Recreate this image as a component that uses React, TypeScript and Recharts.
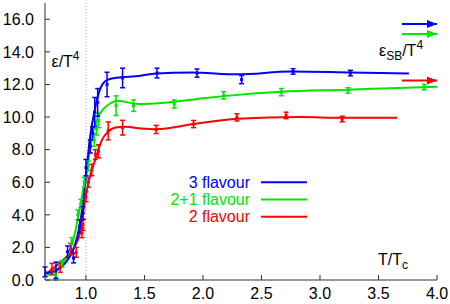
import React from "react";
import {
  ComposedChart,
  Line,
  Scatter,
  ErrorBar,
  XAxis,
  YAxis,
  ReferenceLine,
} from "recharts";

// ---- tick labels ----
const X_TICKS = [1.0, 1.5, 2.0, 2.5, 3.0, 3.5, 4.0];
const Y_TICKS = [0, 2, 4, 6, 8, 10, 12, 14, 16];

// ---- smooth curves [T/Tc, eps/T^4] ----
const curve3 = [
  [0.65, 0.4], [0.75, 0.6], [0.85, 1.3], [0.9, 2.0], [0.95, 3.5], [0.98, 5.0],
  [1.0, 6.3], [1.03, 8.5], [1.08, 10.6], [1.12, 11.7], [1.18, 12.27], [1.3, 12.44],
  [1.42, 12.5], [1.6, 12.68], [1.9, 12.74], [2.3, 12.62], [2.75, 12.8], [3.26, 12.74],
  [3.76, 12.68],
];
const curve21 = [
  [0.65, 0.25], [0.75, 0.6], [0.8, 1.0], [0.85, 1.6], [0.9, 2.7], [0.95, 4.5],
  [1.0, 6.5], [1.04, 8.2], [1.065, 9.2], [1.09, 9.8], [1.15, 10.5], [1.2, 10.8],
  [1.27, 11.0], [1.45, 10.8], [1.7, 10.9], [2.0, 11.15], [2.2, 11.3], [2.67, 11.55],
  [3.24, 11.68], [3.6, 11.77], [4.0, 11.86],
];
const curve2 = [
  [0.65, 0.35], [0.7, 0.6], [0.8, 1.2], [0.9, 2.0], [0.95, 2.9], [1.0, 5.2],
  [1.03, 6.25], [1.08, 7.4], [1.137, 8.6], [1.19, 9.1], [1.265, 9.37], [1.34, 9.4],
  [1.47, 9.3], [1.6, 9.25], [1.92, 9.57], [2.29, 9.9], [2.83, 10.0], [3.19, 9.96],
  [3.66, 9.96],
];

// ---- data points [T/Tc, eps/T^4, error] ----
const points3 = [
  [0.65, 0.5, 0.3], [0.744, 0.6, 0.5], [0.843, 1.74, 0.35], [0.894, 1.35, 0.3],
  [0.946, 3.3, 0.4], [0.975, 4.1, 0.4], [1.0, 6.9, 0.5], [1.037, 8.2, 0.4],
  [1.057, 9.0, 0.4], [1.075, 10.3, 0.9], [1.1, 10.9, 0.85], [1.18, 12.0, 0.75],
  [1.313, 12.4, 0.6], [1.607, 12.7, 0.3], [1.949, 12.7, 0.25], [2.33, 12.3, 0.25],
  [2.77, 12.8, 0.17], [3.26, 12.7, 0.17],
];
const points21 = [
  [0.74, 0.3, 0.3], [0.795, 1.0, 0.2], [0.88, 2.4, 0.2], [0.93, 4.0, 0.3],
  [0.957, 4.7, 0.25], [0.985, 6.0, 0.3], [1.02, 7.0, 0.3], [1.07, 8.6, 0.4],
  [1.09, 9.3, 0.4], [1.108, 9.8, 0.45], [1.257, 10.7, 0.6], [1.407, 10.7, 0.35],
  [1.755, 10.8, 0.25], [2.177, 11.33, 0.22], [2.67, 11.53, 0.22], [3.24, 11.63, 0.17],
  [3.89, 11.84, 0.17],
];
const points2 = [
  [0.71, 0.67, 0.35], [0.78, 0.77, 0.3], [0.87, 1.9, 0.35], [0.917, 1.7, 0.3],
  [0.966, 2.9, 0.3], [0.975, 3.4, 0.35], [1.0, 5.1, 0.3], [1.02, 6.0, 0.3],
  [1.05, 6.75, 0.35], [1.08, 7.7, 0.3], [1.107, 7.9, 0.4], [1.19, 9.15, 0.55],
  [1.313, 9.35, 0.45], [1.6, 9.24, 0.25], [1.92, 9.57, 0.22], [2.29, 9.98, 0.22],
  [2.71, 10.1, 0.2], [3.19, 9.88, 0.17],
];

// ---- Stefan-Boltzmann limits (arrows) ----
const SB_START = 3.7;
const SB_END = 4.0;
const sb3 = 15.71;
const sb21 = 15.1;
const sb2 = 12.25;

const BLUE = "#0000ff";
const GREEN = "#00e600";
const RED = "#ff0000";

const toCurve = (arr: number[][]) => arr.map(([x, y]) => ({ x, y }));
const toPoints = (arr: number[][]) => arr.map(([x, y, e]) => ({ x, y, e }));
const toArrow = (v: number) => [
  { x: SB_START, y: v },
  { x: SB_END, y: v },
];

const Sq = (color: string) => (props: any) => {
  const { cx, cy } = props;
  if (cx == null || cy == null) return null;
  return <rect x={cx - 1.5} y={cy - 1.5} width={3} height={3} fill={color} />;
};

const ArrowHead = (color: string) => (props: any) => {
  const { cx, cy, index } = props;
  if (index !== 1 || cx == null) return <g key={`a${index}`} />;
  return (
    <polygon
      key={`a${index}`}
      points={`${cx},${cy} ${cx - 10},${cy - 4} ${cx - 10},${cy + 4}`}
      fill={color}
    />
  );
};

const FONT = "'Liberation Sans', Arial, Helvetica, sans-serif";
const AXIS_COLOR = "#333";

export default function App() {
  const legend = [
    { label: "3 flavour", color: BLUE },
    { label: "2+1 flavour", color: GREEN },
    { label: "2 flavour", color: RED },
  ];
  return (
    <div
      style={{
        position: "absolute",
        left: 0,
        top: 0,
        width: 450,
        height: 304,
        fontFamily: FONT,
        background: "#fff",
      }}
    >
      <ComposedChart
        width={450}
        height={304}
        margin={{ top: 3, right: 13, bottom: 0, left: 0 }}
      >
        <XAxis
          xAxisId="b"
          type="number"
          dataKey="x"
          domain={[0.65, 4.0]}
          allowDataOverflow
          ticks={X_TICKS}
          tickFormatter={(v: number) => v.toFixed(1)}
          height={24}
          tickSize={-5}
          tickMargin={13}
          tick={{ fill: "#000", fontSize: 16, fontFamily: FONT }}
          stroke={AXIS_COLOR}
          axisLine={{ stroke: AXIS_COLOR }}
        />
        <XAxis
          xAxisId="t"
          orientation="top"
          type="number"
          dataKey="x"
          domain={[0.65, 4.0]}
          allowDataOverflow
          ticks={X_TICKS}
          tickFormatter={() => ""}
          height={0}
          tickSize={-5}
          stroke={AXIS_COLOR}
        />
        <YAxis
          yAxisId="l"
          type="number"
          domain={[0, 17]}
          allowDataOverflow
          ticks={Y_TICKS}
          tickFormatter={(v: number) => v.toFixed(1)}
          width={45}
          tickSize={-5}
          tickMargin={16}
          tick={{ fill: "#000", fontSize: 16, fontFamily: FONT }}
          stroke={AXIS_COLOR}
        />
        <YAxis
          yAxisId="r"
          orientation="right"
          type="number"
          domain={[0, 17]}
          allowDataOverflow
          ticks={Y_TICKS}
          tickFormatter={() => ""}
          width={0}
          tickSize={-5}
          stroke={AXIS_COLOR}
        />
        <ReferenceLine
          xAxisId="b"
          yAxisId="l"
          x={1.0}
          stroke="#aaa"
          strokeDasharray="1 2"
          strokeWidth={1}
        />

        <Line xAxisId="b" yAxisId="l" data={toCurve(curve2)} dataKey="y" type="monotone" stroke={RED} strokeWidth={2} dot={false} isAnimationActive={false} />
        <Line xAxisId="b" yAxisId="l" data={toCurve(curve21)} dataKey="y" type="monotone" stroke={GREEN} strokeWidth={2} dot={false} isAnimationActive={false} />
        <Line xAxisId="b" yAxisId="l" data={toCurve(curve3)} dataKey="y" type="monotone" stroke={BLUE} strokeWidth={2} dot={false} isAnimationActive={false} />

        <Scatter xAxisId="b" yAxisId="l" data={toPoints(points2)} dataKey="y" fill={RED} shape={Sq(RED)} isAnimationActive={false}>
          <ErrorBar dataKey="e" direction="y" width={2.5} stroke={RED} strokeWidth={1.5} />
        </Scatter>
        <Scatter xAxisId="b" yAxisId="l" data={toPoints(points21)} dataKey="y" fill={GREEN} shape={Sq(GREEN)} isAnimationActive={false}>
          <ErrorBar dataKey="e" direction="y" width={2.5} stroke={GREEN} strokeWidth={1.5} />
        </Scatter>
        <Scatter xAxisId="b" yAxisId="l" data={toPoints(points3)} dataKey="y" fill={BLUE} shape={Sq(BLUE)} isAnimationActive={false}>
          <ErrorBar dataKey="e" direction="y" width={2.5} stroke={BLUE} strokeWidth={1.5} />
        </Scatter>

        <Line xAxisId="b" yAxisId="l" data={toArrow(sb3)} dataKey="y" type="linear" stroke={BLUE} strokeWidth={2} dot={ArrowHead(BLUE)} isAnimationActive={false} />
        <Line xAxisId="b" yAxisId="l" data={toArrow(sb21)} dataKey="y" type="linear" stroke={GREEN} strokeWidth={2} dot={ArrowHead(GREEN)} isAnimationActive={false} />
        <Line xAxisId="b" yAxisId="l" data={toArrow(sb2)} dataKey="y" type="linear" stroke={RED} strokeWidth={2} dot={ArrowHead(RED)} isAnimationActive={false} />
      </ComposedChart>

      <svg
        width={450}
        height={304}
        style={{ position: "absolute", left: 0, top: 0, pointerEvents: "none" }}
        fontFamily={FONT}
      >
        <text x={51.5} y={67} fontSize={16} fill="#000">
          ε/T<tspan dy={-7} fontSize={12}>4</tspan>
        </text>
        <text x={379} y={56} fontSize={16} fill="#000">
          ε<tspan dy={4} fontSize={12}>SB</tspan>
          <tspan dy={-4}>/T</tspan>
          <tspan dy={-7} fontSize={12}>4</tspan>
        </text>
        <text x={378} y={265} fontSize={16} fill="#000">
          T/T<tspan dy={4} fontSize={12}>c</tspan>
        </text>
        {legend.map((l, i) => (
          <g key={l.label}>
            <text x={250} y={188 + i * 17.2} fontSize={16} fill={l.color} textAnchor="end">
              {l.label}
            </text>
            <line x1={261} x2={307} y1={182.3 + i * 17.2} y2={182.3 + i * 17.2} stroke={l.color} strokeWidth={2} />
          </g>
        ))}
      </svg>
    </div>
  );
}
